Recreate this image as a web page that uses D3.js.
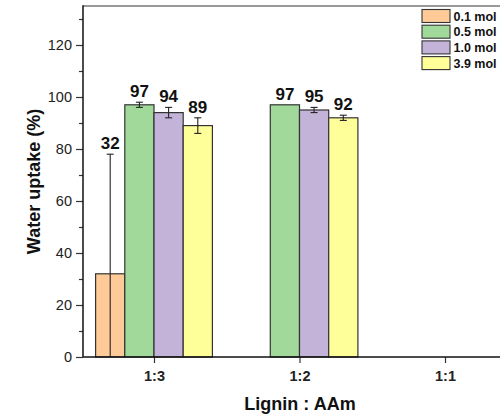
<!DOCTYPE html>
<html>
<head>
<meta charset="utf-8">
<script src="https://cdn.jsdelivr.net/npm/d3@7"></script>
<style>
  html, body { margin: 0; padding: 0; background: #fff; }
  svg { display: block; font-family: Arial, "Liberation Sans", sans-serif; }
</style>
</head>
<body>
<svg id="chart" width="500" height="415"></svg>
<script>
// Lignin : AAm ratio groups
const categories = ["1:3", "1:2", "1:1"];
// Crosslinker amounts
const seriesNames = ["0.1 mol", "0.5 mol", "1.0 mol", "3.9 mol"];
const seriesColors = ["#FDCA98", "#A1D99B", "#C3B3D8", "#FFFF99"];
// Water uptake (%) per series, one entry per category (null = not measured)
const uptake01 = [32, null, null];
const uptake05 = [97, 97, null];
const uptake10 = [94, 95, null];
const uptake39 = [89, 92, null];
// Standard deviations
const err01 = [46, null, null];
const err05 = [1, 0, null];
const err10 = [2, 1, null];
const err39 = [3, 1, null];
const yTicks = [0, 20, 40, 60, 80, 100, 120];
const yMinorTicks = [10, 30, 50, 70, 90, 110, 130];

const values = [uptake01, uptake05, uptake10, uptake39];
const errors = [err01, err05, err10, err39];

const svg = d3.select("#chart");
const plotLeft = 83, plotTop = 6, plotBottom = 357, plotRight = 520;

const y = d3.scaleLinear().domain([0, 135]).range([plotBottom, plotTop]);
const x = d3.scalePoint().domain(categories).range([154, 445]);
const barW = 29.2;

const bars = [];
seriesNames.forEach((name, si) => {
  categories.forEach((c, ci) => {
    const v = values[si][ci];
    if (v == null) return;
    bars.push({ si, c, v, e: errors[si][ci] });
  });
});
const barX = d => x(d.c) + (d.si - 2) * barW;

// frame top
svg.append("line").attr("x1", plotLeft).attr("x2", plotRight).attr("y1", plotTop).attr("y2", plotTop)
  .attr("stroke", "#777").attr("stroke-width", 1.5);

// bars
svg.append("g").selectAll("rect").data(bars).join("rect")
  .attr("x", barX).attr("width", barW)
  .attr("y", d => y(d.v)).attr("height", d => plotBottom - y(d.v))
  .attr("fill", d => seriesColors[d.si])
  .attr("stroke", "#333").attr("stroke-width", 1.2);

// error bars
const eb = svg.append("g").attr("stroke", "#222").attr("stroke-width", 1.1);
bars.filter(d => d.e > 0).forEach(d => {
  const cx = barX(d) + barW / 2;
  const hi = d.v + d.e, lo = Math.max(0, d.v - d.e);
  eb.append("line").attr("x1", cx).attr("x2", cx).attr("y1", y(hi)).attr("y2", y(lo));
  eb.append("line").attr("x1", cx - 3.5).attr("x2", cx + 3.5).attr("y1", y(hi)).attr("y2", y(hi));
  if (d.v - d.e > 0)
    eb.append("line").attr("x1", cx - 3.5).attr("x2", cx + 3.5).attr("y1", y(lo)).attr("y2", y(lo));
});

// value labels
svg.append("g").selectAll("text").data(bars).join("text")
  .attr("x", d => barX(d) + barW / 2)
  .attr("y", d => y(d.v + (d.e || 0)) - 5)
  .attr("text-anchor", "middle")
  .attr("font-size", 17).attr("font-weight", "bold").attr("fill", "#111")
  .text(d => d.v);

// y axis
const yAxis = svg.append("g").attr("transform", `translate(${plotLeft},0)`)
  .call(d3.axisLeft(y).tickValues(yTicks).tickSize(7).tickPadding(4).tickFormat(d3.format("d")));
yAxis.select(".domain").remove();
yAxis.selectAll(".tick line").attr("stroke", "#333").attr("stroke-width", 1.2);
yAxis.selectAll(".tick text").attr("font-size", 14.5).attr("fill", "#222")
  .attr("font-family", "Arial, 'Liberation Sans', sans-serif");
const yMinor = svg.append("g").attr("transform", `translate(${plotLeft},0)`)
  .call(d3.axisLeft(y).tickValues(yMinorTicks).tickSize(4).tickFormat(""));
yMinor.select(".domain").remove();
yMinor.selectAll(".tick line").attr("stroke", "#333").attr("stroke-width", 1.2);
svg.append("line").attr("x1", plotLeft).attr("x2", plotLeft).attr("y1", plotTop - 0.75).attr("y2", plotBottom)
  .attr("stroke", "#111").attr("stroke-width", 1.5);

// x axis
const xAxis = svg.append("g").attr("transform", `translate(0,${plotBottom})`)
  .call(d3.axisBottom(x).tickSize(6).tickPadding(8));
xAxis.select(".domain").remove();
xAxis.selectAll(".tick line").attr("stroke", "#333").attr("stroke-width", 1.2);
xAxis.selectAll(".tick text").attr("font-size", 14.5).attr("font-weight", "bold").attr("fill", "#222")
  .attr("font-family", "Arial, 'Liberation Sans', sans-serif");
svg.append("line").attr("x1", plotLeft).attr("x2", plotRight).attr("y1", plotBottom).attr("y2", plotBottom)
  .attr("stroke", "#111").attr("stroke-width", 1.5);

// axis titles
svg.append("text").attr("x", 300).attr("y", 410).attr("text-anchor", "middle")
  .attr("font-size", 18).attr("font-weight", "bold").attr("fill", "#111").text("Lignin : AAm");
svg.append("text").attr("transform", "translate(40,181.5) rotate(-90)").attr("text-anchor", "middle")
  .attr("font-size", 18).attr("font-weight", "bold").attr("fill", "#111").text("Water uptake (%)");

// legend
const lg = svg.append("g").attr("transform", "translate(422,9.5)");
seriesNames.forEach((name, i) => {
  const row = lg.append("g").attr("transform", `translate(0,${i * 15.7})`);
  row.append("rect").attr("width", 28).attr("height", 13)
    .attr("fill", seriesColors[i]).attr("stroke", "#333").attr("stroke-width", 1.1);
  row.append("text").attr("x", 31.5).attr("y", 11).attr("font-size", 12.5)
    .attr("font-weight", "bold").attr("fill", "#111").text(name);
});
</script>
</body>
</html>
